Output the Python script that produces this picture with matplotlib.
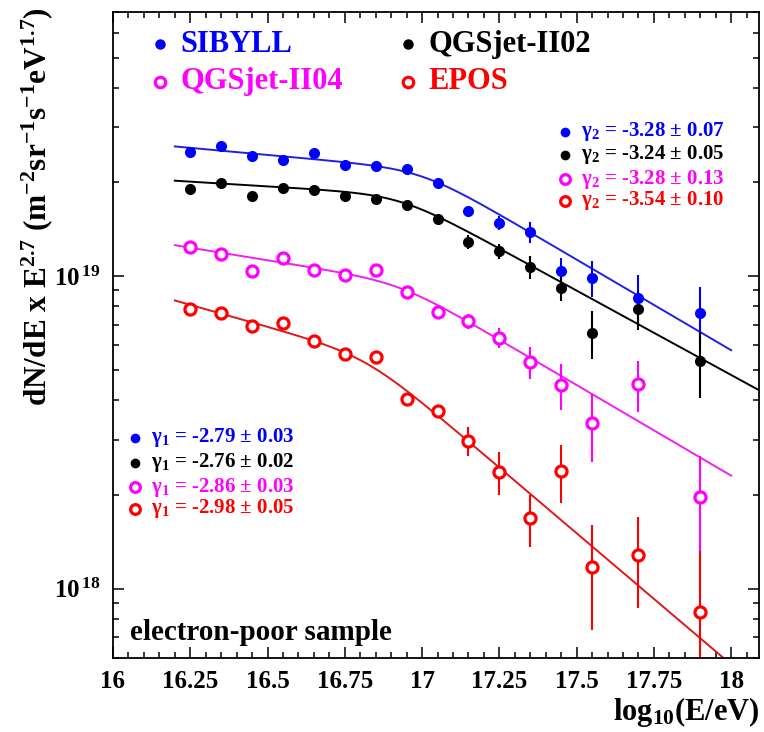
import numpy as np
import matplotlib
matplotlib.use("Agg")
import matplotlib.pyplot as plt
from matplotlib.ticker import MultipleLocator, LogLocator, FuncFormatter, NullFormatter

plt.rcParams['font.family'] = ['Liberation Serif', 'DejaVu Serif']
plt.rcParams['font.weight'] = 'bold'
plt.rcParams['mathtext.fontset'] = 'custom'
plt.rcParams['mathtext.rm'] = 'Liberation Serif:bold'
plt.rcParams['mathtext.it'] = 'Liberation Serif:italic:bold'
plt.rcParams['mathtext.bf'] = 'Liberation Serif:bold'
plt.rcParams['mathtext.default'] = 'regular'

# energy bins, log10(E/eV)
log_e = [16.25, 16.35, 16.45, 16.55, 16.65, 16.75, 16.85, 16.95,
         17.05, 17.15, 17.25, 17.35, 17.45, 17.55, 17.7, 17.9]

# dN/dE x E^2.7  (m^-2 sr^-1 s^-1 eV^1.7)
sibyll = [2.50e19, 2.60e19, 2.43e19, 2.35e19, 2.47e19, 2.27e19, 2.25e19, 2.20e19,
          1.98e19, 1.61e19, 1.48e19, 1.38e19, 1.04e19, 0.988e19, 0.853e19, 0.760e19]
sibyll_err = [0.03e19, 0.03e19, 0.03e19, 0.03e19, 0.03e19, 0.03e19, 0.03e19, 0.035e19,
              0.04e19, 0.06e19, 0.078e19, 0.105e19, 0.104e19, 0.13e19, 0.157e19, 0.16e19]

qgs02 = [1.90e19, 1.98e19, 1.80e19, 1.92e19, 1.89e19, 1.81e19, 1.77e19, 1.69e19,
         1.52e19, 1.29e19, 1.20e19, 1.07e19, 0.918e19, 0.659e19, 0.783e19, 0.535e19]
qgs02_err = [0.025e19, 0.025e19, 0.025e19, 0.025e19, 0.025e19, 0.025e19, 0.03e19, 0.03e19,
             0.05e19, 0.065e19, 0.068e19, 0.09e19, 0.088e19, 0.116e19, 0.11e19, 0.127e19]

qgs04 = [1.24e19, 1.18e19, 1.04e19, 1.14e19, 1.045e19, 1.01e19, 1.05e19, 0.892e19,
         0.767e19, 0.718e19, 0.635e19, 0.531e19, 0.448e19, 0.338e19, 0.451e19, 0.197e19]
qgs04_err = [0.015e19, 0.015e19, 0.015e19, 0.015e19, 0.02e19, 0.02e19, 0.02e19, 0.025e19,
             0.03e19, 0.041e19, 0.048e19, 0.062e19, 0.075e19, 0.083e19, 0.083e19, 0.068e19]

epos = [0.783e19, 0.764e19, 0.692e19, 0.706e19, 0.620e19, 0.562e19, 0.551e19, 0.405e19,
        0.369e19, 0.297e19, 0.236e19, 0.168e19, 0.238e19, 0.117e19, 0.128e19, 0.0844e19]
epos_err = [0.008e19, 0.008e19, 0.008e19, 0.008e19, 0.009e19, 0.01e19, 0.01e19, 0.015e19,
            0.018e19, 0.032e19, 0.037e19, 0.032e19, 0.05e19, 0.043e19, 0.041e19, 0.048e19]

models = ['SIBYLL', 'QGSjet-II02', 'QGSjet-II04', 'EPOS']
colors = ['#0000ff', '#000000', '#ff00ff', '#ff0000']
line_colors = ['#2020e0', '#000000', '#f020f0', '#e01818']
filled = [True, True, False, False]

# broken power law fits
gamma1 = [-2.79, -2.76, -2.86, -2.98]
gamma1_err = [0.03, 0.02, 0.03, 0.05]
gamma2 = [-3.28, -3.24, -3.28, -3.54]
gamma2_err = [0.07, 0.05, 0.13, 0.10]
fit_norm = [2.60e19, 2.02e19, 1.256e19, 0.836e19]   # value at log E = 16.2
fit_knee = [17.0, 16.93, 16.93, 16.82]
fit_end = [18.0, 18.1, 18.0, 18.0]
fit_start = 16.2
smooth = 6.0


def bpl(x, f0, g1, g2, xk, eps=smooth):
    pure = f0 * 10 ** ((g1 + 2.7) * (x - fit_start))
    bend = ((1 + 10 ** (eps * (x - xk))) / (1 + 10 ** (eps * (fit_start - xk)))) ** ((g2 - g1) / eps)
    return pure * bend


def marker_style(i, size):
    return dict(color=colors[i], ms=size, mfc=colors[i] if filled[i] else 'white',
                mec=colors[i], mew=0 if filled[i] else 2.3)


fig = plt.figure(figsize=(7.64, 7.32), dpi=100)
ax = fig.add_axes([0.1479, 0.1011, 0.8455, 0.8825])

series = [(sibyll, sibyll_err), (qgs02, qgs02_err), (qgs04, qgs04_err), (epos, epos_err)]
for i, (vals, errs) in enumerate(series):
    xx = np.linspace(fit_start, fit_end[i], 300)
    ax.plot(xx, bpl(xx, fit_norm[i], gamma1[i], gamma2[i], fit_knee[i]),
            color=line_colors[i], lw=1.4)
    ax.errorbar(log_e, vals, yerr=errs, fmt='o', ecolor=colors[i], elinewidth=1.5,
                capsize=0, **marker_style(i, 8))

ax.set_yscale('log')
ax.set_xlim(16, 18.09)
ax.set_ylim(6e17, 7e19)

ax.xaxis.set_major_locator(MultipleLocator(0.25))
ax.xaxis.set_minor_locator(MultipleLocator(0.05))
ax.xaxis.set_major_formatter(FuncFormatter(lambda v, p: '%g' % v))
ax.yaxis.set_major_locator(LogLocator(base=10))
ax.yaxis.set_minor_locator(LogLocator(base=10, subs=np.arange(2, 10)))
ax.yaxis.set_major_formatter(FuncFormatter(lambda v, p: r'$10^{\,%d}$' % round(np.log10(v))))
ax.yaxis.set_minor_formatter(NullFormatter())
ax.tick_params(which='both', direction='in', top=True, right=True, width=1.1)
ax.tick_params(which='major', length=8, labelsize=18, pad=9)
ax.tick_params(which='minor', length=4.5)
for s in ax.spines.values():
    s.set_linewidth(1.3)

fig.text(0.049, 0.99, r'dN/dE x E$^{2.7}$ (m$^{-2}$sr$^{-1}$s$^{-1}$eV$^{1.7}$)',
         rotation=90, ha='center', va='top', fontsize=22.5, fontweight='bold')
fig.text(0.995, 0.027, r'log$_{10}$(E/eV)', ha='right', va='center', fontsize=22,
         fontweight='bold')

# model legend
leg_x = [0.0728, 0.4567, 0.0728, 0.4567]
leg_y = [0.950, 0.950, 0.892, 0.892]
for i in range(4):
    ax.plot([leg_x[i]], [leg_y[i]], 'o', transform=ax.transAxes, **marker_style(i, 7.5))
    ax.text(leg_x[i] + 0.031, leg_y[i], models[i], transform=ax.transAxes, color=colors[i],
            fontsize=22, fontweight='bold', ha='left', va='center')

# fitted spectral indices
g2_y = [0.815, 0.779, 0.741, 0.708]
g1_y = [0.341, 0.302, 0.264, 0.231]
for i in range(4):
    for xm, yy, g, e, sub in [(0.700, g2_y[i], gamma2[i], gamma2_err[i], 2),
                              (0.0341, g1_y[i], gamma1[i], gamma1_err[i], 1)]:
        ax.plot([xm], [yy], 'o', transform=ax.transAxes, **marker_style(i, 7))
        ax.text(xm + 0.024, yy, 'γ$_{%d}$ = %.2f ± %.2f' % (sub, g, e),
                transform=ax.transAxes, color=colors[i], fontsize=15,
                fontweight='bold', ha='left', va='center')

ax.text(0.026, 0.040, 'electron-poor sample', transform=ax.transAxes, fontsize=21,
        fontweight='bold', ha='left', va='center')

fig.savefig('out.png', dpi=100)
